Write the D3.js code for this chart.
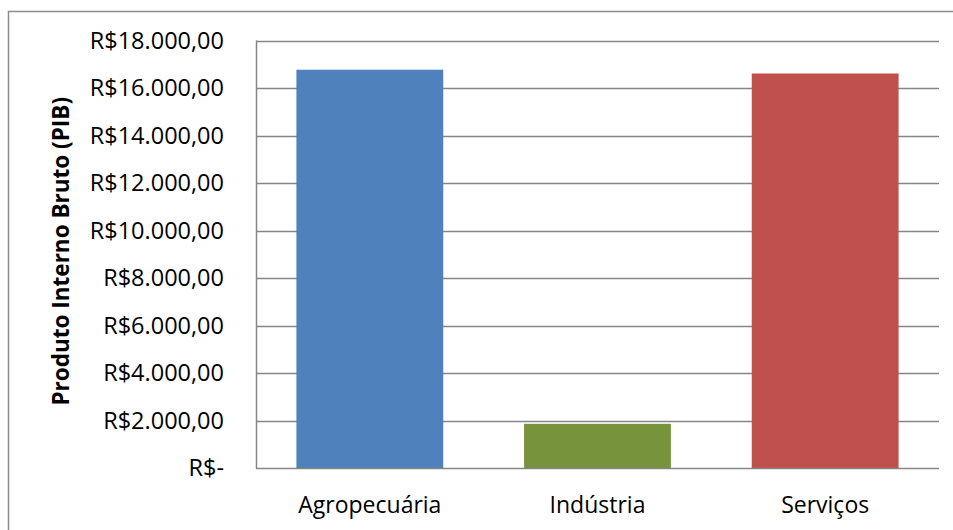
<!DOCTYPE html>
<html>
<head>
<meta charset="utf-8">
<script src="https://cdn.jsdelivr.net/npm/d3@7"></script>
<style>
 body { margin: 0; background: #fff; }
 text { font-family: "Open Sans", sans-serif; fill: #000; }
</style>
</head>
<body>
<div id="chart"></div>
<script>
var categories = ["Agropecuária", "Indústria", "Serviços"];
var pib = [16770, 1860, 16610];
var colors = ["#4F81BD", "#77933C", "#C0504D"];
var ticks = [0, 2000, 4000, 6000, 8000, 10000, 12000, 14000, 16000, 18000];

var width = 953, height = 530;
var plotLeft = 256, plotRight = 939, plotTop = 40.5, plotBottom = 468;

var svg = d3.select("#chart").
 append("svg").
 attr("width", width).
 attr("height", height);

// outer frame
svg.append("rect").
 attr("x", 8.5).
 attr("y", 11.5).
 attr("width", 960).
 attr("height", 540).
 attr("fill", "#fff").
 attr("stroke", "#8c8c8c").
 attr("stroke-width", 1.5);

var x = d3.scaleBand().
 domain(categories).
 range([plotLeft, plotRight]).
 paddingInner(0.355).
 paddingOuter(0.1775);

var y = d3.scaleLinear().
 domain([0, 18000]).
 range([plotBottom, plotTop]);

var fmt = function(v){
 if(v == 0) return "R$-";
 return "R$" + d3.format(",.2f")(v).replace(/,/g, "#").replace(".", ",").replace(/#/g, ".");
};

// gridlines
svg.append("g").
 selectAll("line").
 data(ticks.slice(1)).
 join("line").
 attr("x1", plotLeft).
 attr("x2", plotRight).
 attr("y1", function(d){ return Math.round(y(d)) + 0.5; }).
 attr("y2", function(d){ return Math.round(y(d)) + 0.5; }).
 attr("stroke", "#868686").
 attr("stroke-width", 1.5);

// bars
svg.append("g").
 selectAll("rect").
 data(pib).
 join("rect").
 attr("x", function(d, i){ return x(categories[i]); }).
 attr("width", x.bandwidth()).
 attr("y", function(d){ return y(d); }).
 attr("height", function(d){ return y(0) - y(d); }).
 attr("fill", function(d, i){ return colors[i]; });

// axis lines
svg.append("line").
 attr("x1", plotLeft + 0.5).attr("x2", plotLeft + 0.5).
 attr("y1", plotTop).attr("y2", plotBottom + 0.5).
 attr("stroke", "#868686").attr("stroke-width", 1.5);
svg.append("line").
 attr("x1", plotLeft).attr("x2", plotRight).
 attr("y1", plotBottom + 0.5).attr("y2", plotBottom + 0.5).
 attr("stroke", "#868686").attr("stroke-width", 1.5);

// y tick labels
svg.append("g").
 selectAll("text").
 data(ticks).
 join("text").
 attr("x", 224).
 attr("y", function(d){ return y(d); }).
 attr("dy", "0.36em").
 attr("text-anchor", "end").
 style("font-size", "23.5px").
 text(fmt);

// x labels
svg.append("g").
 selectAll("text").
 data(categories).
 join("text").
 attr("x", function(d){ return x(d) + x.bandwidth() / 2; }).
 attr("y", 513).
 attr("text-anchor", "middle").
 style("font-size", "23px").
 text(function(d){ return d; });

// y title
svg.append("text").
 attr("transform", "translate(69," + ((plotTop + plotBottom) / 2 - 3) + ") rotate(-90)").
 attr("text-anchor", "middle").
 style("font-size", "22.5px").
 style("font-weight", "bold").
 text("Produto Interno Bruto (PIB)");
</script>
</body>
</html>
